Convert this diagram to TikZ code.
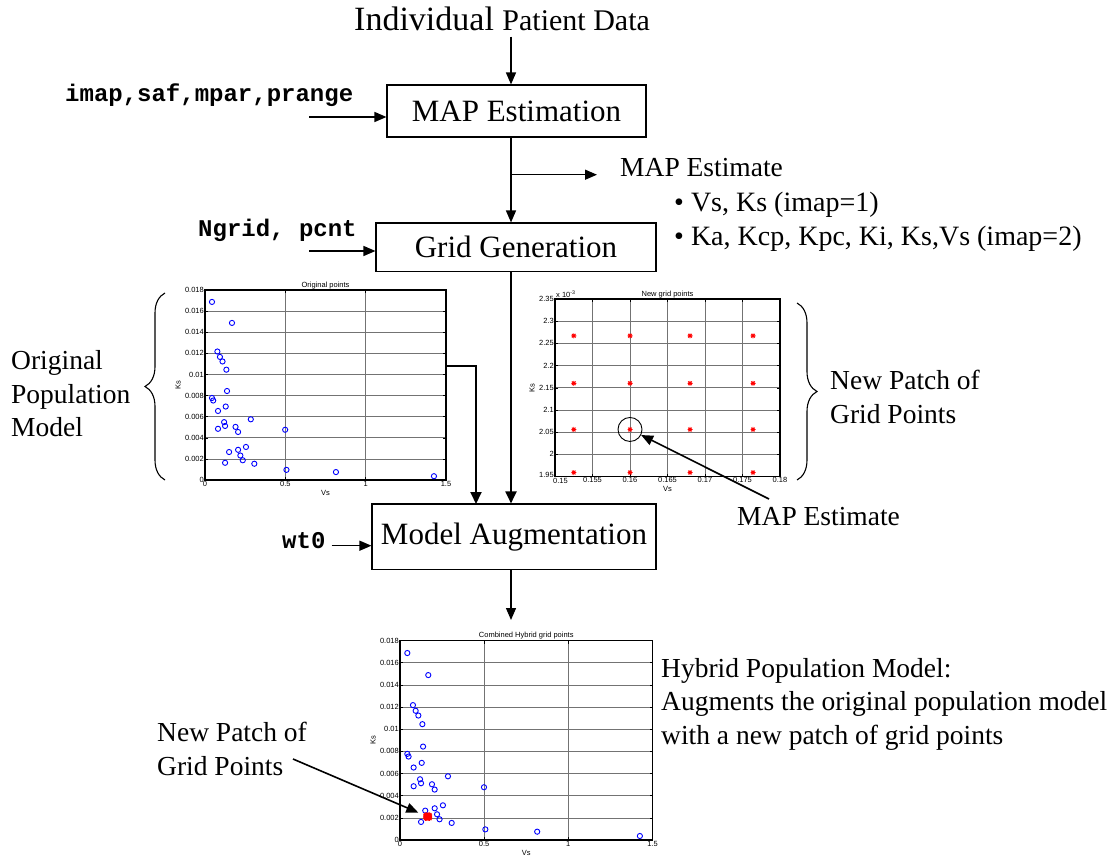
\documentclass[tikz,border=0pt]{standalone}
\usepackage{fontspec}
\setmainfont{Liberation Serif}
\setsansfont{Liberation Sans}
\setmonofont{Liberation Mono}
\usetikzlibrary{arrows.meta,decorations.pathreplacing}

\tikzset{
  boxnode/.style={draw, line width=1.1pt, inner sep=0pt, font=\fontsize{31}{36}\selectfont},
  notetext/.style={inner sep=0pt, align=left, font=\fontsize{27.5}{33.5}\selectfont},
  paramtext/.style={inner sep=0pt, font=\fontsize{24}{28}\selectfont\ttfamily\bfseries},
  flowarrow/.style={line width=1.3pt, -{Triangle[length=12pt,width=10pt]}},
  heavyarrow/.style={line width=1.9pt, -{Triangle[length=12pt,width=11pt]}},
  curly/.style={decorate, decoration={brace, amplitude=20pt}, line width=1.1pt},
  gridline/.style={black!55, line width=0.6pt},
  axisframe/.style={line width=1.2pt},
  ticklbl/.style={inner sep=1pt, font=\sffamily\fontsize{7.5}{9}\selectfont},
  popmark/.style={blue, line width=0.9pt},
  gstar/.pic={\draw[red, line width=0.9pt] (-2.5pt,0) -- (2.5pt,0) (0,-2.5pt) -- (0,2.5pt)
    (-1.8pt,-1.8pt) -- (1.8pt,1.8pt) (-1.8pt,1.8pt) -- (1.8pt,-1.8pt);}
}

% Vs / Ks (x 1e-3) of the original population
\def\popdata{0.0435/16.87, 0.168/14.88, 0.077/12.17, 0.093/11.66, 0.109/11.23,
  0.133/10.45, 0.137/8.43, 0.0435/7.77, 0.051/7.53, 0.129/6.96, 0.081/6.54,
  0.285/5.75, 0.119/5.48, 0.125/5.12, 0.081/4.85, 0.190/5.03, 0.206/4.55,
  0.499/4.76, 0.150/2.65, 0.206/2.86, 0.255/3.13, 0.220/2.32, 0.235/1.87,
  0.125/1.63, 0.307/1.54, 0.507/0.96, 0.815/0.75, 1.425/0.36}

\newcommand\popplot[2]{%
  \foreach \k in {2,4,...,16} \draw[gridline] (0,\k) -- (1.5,\k);
  \foreach \v in {0.5,1} \draw[gridline] (\v,0) -- (\v,18);
  \foreach \k in {0,2,...,18} \draw (0,\k) -- ++(3pt,0) (1.5,\k) -- ++(-3pt,0);
  \foreach \v in {0,0.5,1,1.5} \draw (\v,0) -- ++(0,3pt) (\v,18) -- ++(0,-3pt);
  \draw[axisframe] (0,0) rectangle (1.5,18);
  \foreach \x/\y in \popdata \draw[popmark] (\x,\y) circle[radius=2.6pt];
  \foreach \k/\t in {0/0,2/0.002,4/0.004,6/0.006,8/0.008,10/0.01,12/0.012,14/0.014,16/0.016,18/0.018}
    \node[ticklbl, anchor=east] (#1y\k) at (0,\k) {\t};
  \foreach \v/\t [count=\i] in {0/0,0.5/0.5,1/1,1.5/1.5}
    \node[ticklbl, anchor=north] (#1x\i) at (\v,0) {\t};
  \node[ticklbl, anchor=north] (#1vs) at ([yshift=-9pt]0.75,0) {Vs};
  \node[ticklbl, rotate=90] (#1ks) at ([xshift=-27pt]0,9) {Ks};
  \node[ticklbl, anchor=south] (#1title) at (0.75,18) {#2};
}

\begin{document}
\begin{tikzpicture}[x=1pt,y=-1pt]
\fill[white] (0,0) rectangle (1112,861);
\useasboundingbox (0,0) rectangle (1112,861);

% flow chart
\coordinate (spine) at (511,0);
\node[anchor=base west, inner sep=0pt] (ipd) at (354,31)
  {\fontsize{34}{40}\selectfont Individual \fontsize{30}{36}\selectfont Patient Data};
\node[boxnode, minimum width=259pt, minimum height=52pt] (mapbox) at (516.5,111) {MAP Estimation};
\node[boxnode, minimum width=280pt, minimum height=48.5pt] (gridbox) at (516,247.25) {Grid Generation};
\node[boxnode, minimum width=284pt, minimum height=65.5pt] (augbox) at (514,536.75) {Model Augmentation};

\node[paramtext, anchor=base west] (imaplbl) at (65,102) {imap,saf,mpar,prange};
\node[paramtext, anchor=base west] (ngridlbl) at (198,237) {Ngrid, pcnt};
\node[paramtext, anchor=base west] (wt0lbl) at (282,548) {wt0};
\coordinate (imapsrc) at (309,117);
\coordinate (ngridsrc) at (309,251);

\node[notetext, anchor=base west] (mapest) at (620,177) {MAP Estimate};
\node[notetext, anchor=base west, font=\fontsize{28}{33}\selectfont] (bulone) at (674,212) {• Vs, Ks (imap=1)};
\node[notetext, anchor=base west, font=\fontsize{28}{33}\selectfont] (bultwo) at (674,246) {• Ka, Kcp, Kpc, Ki, Ks,Vs (imap=2)};

\draw[flowarrow, shorten <=5pt] (spine |- ipd.south) -- (spine |- mapbox.north);
\draw[flowarrow] (imapsrc) -- (imapsrc -| mapbox.west);
\draw[flowarrow] (spine |- mapbox.south) -- (spine |- gridbox.north);
\draw[flowarrow] (spine |- mapest.mid west) -- ([xshift=-23pt]mapest.mid west);
\draw[flowarrow] (ngridsrc) -- (ngridsrc -| gridbox.west);
\draw[heavyarrow] (spine |- gridbox.south) -- (spine |- augbox.north);
\draw[flowarrow, shorten <=6pt] (wt0lbl.mid east) -- (wt0lbl.mid east -| augbox.west);

% original population plot
\begin{scope}[shift={(205,480)}, x=160.67pt, y=10.556pt]
  \popplot{org}{Original points}
  \coordinate (origout) at (1.5,10.8);
\end{scope}
\coordinate (origdrop) at (476,504);
\draw[heavyarrow] (origout) -| (origdrop);

\draw[curly] (165,480) -- (165,293);
\node[notetext, anchor=west] (origlbl) at (11,394) {Original\\Population\\Model};

% new grid points plot
\begin{scope}[shift={(555,476.5)}, x=7.5pt, y=4.4375pt]
  \foreach \v in {5,10,...,25} \draw[gridline] (\v,0) -- (\v,40);
  \foreach \k in {5,10,...,35} \draw[gridline] (0,\k) -- (30,\k);
  \foreach \k in {0,5,...,40} \draw (0,\k) -- ++(3pt,0) (30,\k) -- ++(-3pt,0);
  \foreach \v in {0,5,...,30} \draw (\v,0) -- ++(0,3pt) (\v,40) -- ++(0,-3pt);
  \draw[axisframe] (0,0) rectangle (30,40);
  \foreach \x in {2.5,10,18,26.4}
    \foreach \y in {0.9,10.6,21,31.7} \pic at (\x,\y) {gstar};
  \foreach \k/\t in {5/2,10/2.05,15/2.1,20/2.15,25/2.2,30/2.25,35/2.3,40/2.35}
    \node[ticklbl, anchor=east] (newy\k) at (0,\k) {\t};
  \node[ticklbl, anchor=south east] (newy0) at ([yshift=-2pt]0,0) {1.95};
  \foreach \v/\t in {5/0.155,10/0.16,15/0.165,20/0.17,25/0.175,30/0.18}
    \node[ticklbl, anchor=north] (newx\v) at (\v,0) {\t};
  \node[ticklbl, anchor=north west] (newx0) at ([xshift=-3pt,yshift=-1pt]0,0) {0.15};
  \node[ticklbl, anchor=north] (newvs) at ([yshift=-9pt]15,0) {Vs};
  \node[ticklbl, rotate=90] (newks) at ([xshift=-23pt]0,20) {Ks};
  \node[ticklbl, anchor=south] (newtitle) at (15,40) {New grid points};
  \node[ticklbl, anchor=south west] (newexp) at (0,40) {x 10\textsuperscript{-3}};
  \node[draw, circle, line width=0.9pt, minimum size=24pt, inner sep=0pt] (sel) at (10,10.6) {};
\end{scope}

\draw[curly] (797,303) -- (797,480);
\node[notetext, anchor=west] (patchlbl) at (830,397) {New Patch of\\Grid Points};

\node[notetext, anchor=base west] (mapesttwo) at (737,525) {MAP Estimate};
\coordinate (estsrc) at (769,499);
\draw[flowarrow, line width=1.6pt] (estsrc) -- (sel);

% combined hybrid plot
\coordinate (combtop) at (511,620);
\draw[flowarrow] (spine |- augbox.south) -- (combtop);
\begin{scope}[shift={(400,840)}, x=168.33pt, y=11.083pt]
  \popplot{cmb}{Combined Hybrid grid points}
  \foreach \x in {0.1525,0.16,0.168,0.1764}
    \foreach \y in {1.959,2.056,2.16,2.267} \pic at (\x,\y) {gstar};
  \node[circle, minimum size=20pt, inner sep=0pt] (blob) at (0.1645,2.11) {};
\end{scope}

\node[notetext, anchor=west] (hybridlbl) at (661,704)
  {Hybrid Population Model:\\Augments the original population model\\with a new patch of grid points};
\node[notetext, anchor=west] (patchlbltwo) at (157,749) {New Patch of\\Grid Points};
\coordinate (patchsrc) at (293,759);
\draw[flowarrow, line width=1.6pt] (patchsrc) -- (blob);
\end{tikzpicture}
\end{document}
